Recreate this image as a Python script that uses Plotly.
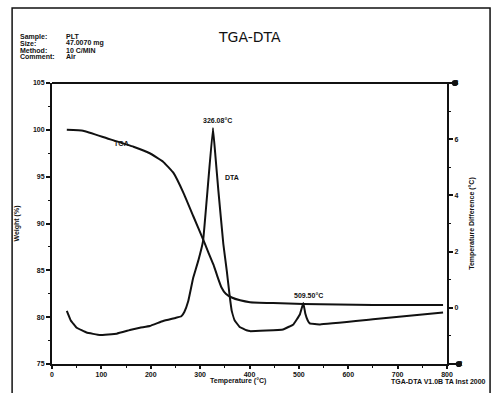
import plotly.graph_objects as go

# TGA weight curve (temperature in °C, weight in %)
tga_temp = [30, 63, 111, 165, 198, 225, 246, 266, 286, 306, 316, 327, 336, 343, 352, 364, 381, 401, 448, 509, 650, 792]
tga_weight = [100.0, 99.9, 99.1, 98.2, 97.5, 96.6, 95.4, 93.3, 90.8, 88.3, 87.0, 85.6, 84.2, 83.2, 82.5, 82.1, 81.8, 81.6, 81.5, 81.4, 81.3, 81.3]

# DTA curve (temperature in °C, temperature difference in °C)
dta_temp = [30, 38, 50, 70, 97, 131, 160, 178, 198, 225, 250, 262, 268, 276, 286, 296, 306, 316, 326, 331, 337, 347, 354,
            360, 364, 370, 380, 394, 401, 468, 489, 502, 509, 513, 518, 522, 543, 650, 792]
dta_diff = [-0.11, -0.45, -0.71, -0.88, -0.97, -0.92, -0.78, -0.71, -0.65, -0.47, -0.36, -0.30, -0.15, 0.24, 1.07, 1.66, 2.38, 4.4, 6.4, 5.4, 4.16, 2.27, 1.31,
            0.4, -0.11, -0.45, -0.68, -0.80, -0.83, -0.77, -0.59, -0.24, 0.17, -0.2, -0.45, -0.55, -0.59, -0.41, -0.17]

peak_temps = [326.08, 509.50]
peak_diffs = [6.4, 0.17]
peak_labels = ["326.08°C", "509.50°C"]

x_ticks = [0, 100, 200, 300, 400, 500, 600, 700, 800]
w_ticks = [75, 80, 85, 90, 95, 100, 105]
d_ticks = [-2, 0, 2, 4, 6, 8]

header_keys = ["Sample:", "Size:", "Method:", "Comment:"]
header_vals = ["PLT", "47.0070 mg", "10 C/MIN", "Air"]

INK = "#111111"
LBL = dict(family="Liberation Sans", size=7, color=INK, weight="bold")

fig = go.Figure()
fig.add_trace(go.Scatter(x=tga_temp, y=tga_weight, mode="lines",
                         line=dict(color=INK, width=2, shape="spline", smoothing=0.3),
                         yaxis="y", showlegend=False, hoverinfo="skip"))
fig.add_trace(go.Scatter(x=dta_temp, y=dta_diff, mode="lines",
                         line=dict(color=INK, width=2, shape="spline", smoothing=0.2),
                         yaxis="y2", showlegend=False, hoverinfo="skip"))

axis_common = dict(showgrid=False, zeroline=False, showline=True, linecolor=INK, linewidth=2,
                   ticks="outside", tickcolor=INK, tickwidth=2,
                   tickfont=dict(family="Liberation Sans", size=7, color=INK, weight="bold"))

fig.update_layout(
    width=495, height=393,
    margin=dict(l=52, r=48, t=83, b=29),
    paper_bgcolor="white", plot_bgcolor="white",
    xaxis=dict(range=[0, 800], tickvals=x_ticks, ticklen=3,
               minor=dict(ticks="outside", ticklen=2, tickwidth=1, dtick=50, tickcolor=INK), **axis_common),
    yaxis=dict(range=[75, 105], tickvals=w_ticks, ticklen=4,
               minor=dict(ticks="outside", ticklen=2, tickwidth=1, dtick=2.5, tickcolor=INK),
               title=dict(text="Weight (%)", font=LBL, standoff=12), **axis_common),
    yaxis2=dict(range=[-2, 8], tickvals=d_ticks, overlaying="y", side="right", ticklen=4,
                minor=dict(ticks="outside", ticklen=2, tickwidth=1, dtick=1, tickcolor=INK),
                title=dict(text="Temperature Difference (°C)", font=LBL, standoff=8), **axis_common),
    font=dict(family="Liberation Sans", color=INK),
)

# Top border of the plot box and the extended bottom line, each ending in a dot
fig.add_shape(type="line", xref="paper", yref="paper", x0=0, x1=1.02, y0=1, y1=1, line=dict(color=INK, width=2))
fig.add_shape(type="line", xref="paper", yref="paper", x0=1, x1=1.03, y0=0, y1=0, line=dict(color=INK, width=2))
for yy, xx in [(1, 1.02), (0, 1.03)]:
    fig.add_shape(type="circle", xref="paper", yref="paper", x0=xx - 0.008, x1=xx + 0.008,
                  y0=yy - 0.011, y1=yy + 0.011, fillcolor=INK, line=dict(color=INK, width=0))

# Outer frame
fig.add_shape(type="rect", xref="paper", yref="paper", x0=-0.101, x1=1.109, y0=-0.12, y1=1.267,
              line=dict(color=INK, width=1.5))

# Title and header block
fig.add_annotation(text="TGA-DTA", xref="paper", yref="paper", x=0.5, y=1.165, showarrow=False,
                   font=dict(family="DejaVu Sans", size=14, color=INK), xanchor="center", yanchor="middle")
for i, (k, v) in enumerate(zip(header_keys, header_vals)):
    yy = 1.165 - i * 0.024
    fig.add_annotation(text=k, xref="paper", yref="paper", x=-0.085, y=yy, showarrow=False,
                       font=LBL, xanchor="left", yanchor="middle")
    fig.add_annotation(text=v, xref="paper", yref="paper", x=0.03, y=yy, showarrow=False,
                       font=LBL, xanchor="left", yanchor="middle")

# Axis caption and instrument stamp
fig.add_annotation(text="Temperature (°C)", xref="paper", yref="paper", x=0.47, y=-0.062, showarrow=False,
                   font=LBL, xanchor="center", yanchor="middle")
fig.add_annotation(text="TGA-DTA V1.0B TA Inst 2000", xref="paper", yref="paper", x=1.105, y=-0.062,
                   showarrow=False, font=LBL, xanchor="right", yanchor="middle")

# Curve labels
fig.add_annotation(text="TGA", x=140, y=98.5, xref="x", yref="y", showarrow=False, font=LBL)
fig.add_annotation(text="DTA", x=365, y=4.65, xref="x", yref="y2", showarrow=False, font=LBL)

# Peak labels
for t, d, lab in zip(peak_temps, peak_diffs, peak_labels):
    fig.add_annotation(text=lab, x=t, y=d, xref="x", yref="y2", showarrow=False,
                       font=LBL, xanchor="left", yanchor="bottom", xshift=-12, yshift=2)

fig.write_html("out.html")
